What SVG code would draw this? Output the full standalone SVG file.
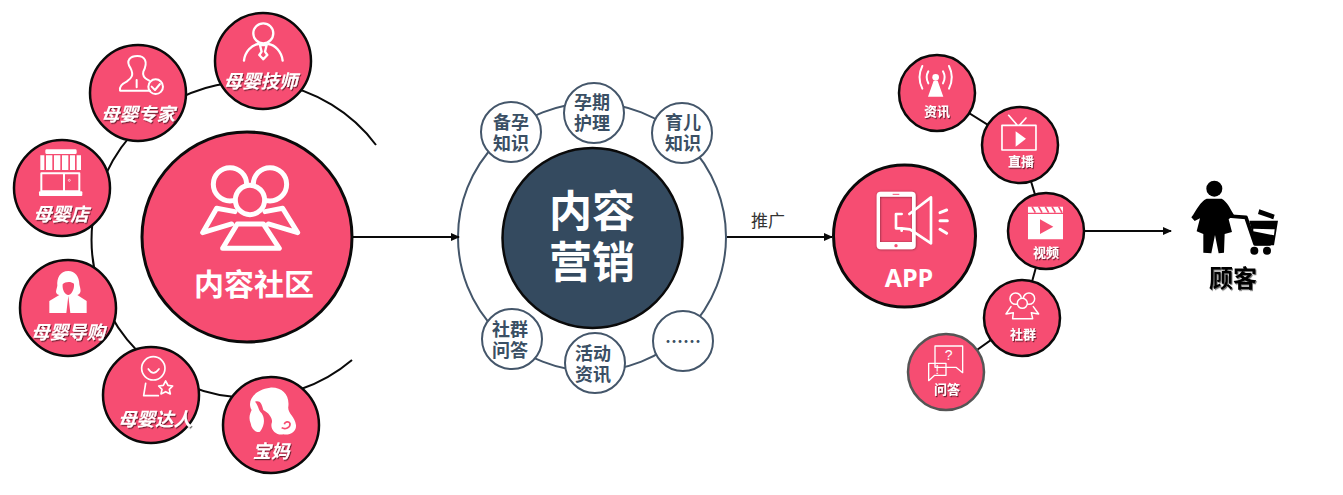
<svg xmlns="http://www.w3.org/2000/svg" width="1343" height="495" viewBox="0 0 1343 495">
<style>
text{font-family:"Noto Sans CJK SC","Liberation Sans",sans-serif;font-weight:700;text-anchor:middle}
.p{fill:#f64d72;stroke:#0a0a0a}
.b{stroke-width:2.5}
.big{stroke-width:3}
.t{fill:#fff;font-size:18.500px;font-style:italic;filter:url(#sh)}
.s{fill:#fff;font-size:13px;filter:url(#sh)}
.k{fill:#fff;stroke:#44566a;stroke-width:2}
.d{fill:#3a4f64;font-size:18px}
.i{fill:none;stroke:#fff;stroke-width:6;stroke-linecap:round;stroke-linejoin:round}
.f{fill:#fff}
.l{fill:none;stroke:#0a0a0a;stroke-width:2}
</style>
<defs>
<filter id="sh" x="-20%" y="-20%" width="150%" height="150%"><feDropShadow dx="1" dy="1.2" stdDeviation=".7" flood-color="#000" flood-opacity=".55"/></filter>
<filter id="ph" x="-30%" y="-30%" width="160%" height="160%"><feDropShadow dx="1" dy="1" stdDeviation="3" flood-color="#000" flood-opacity=".5"/></filter>
<marker id="a" markerWidth="9" markerHeight="9" refX="8" refY="4.500" orient="auto" markerUnits="userSpaceOnUse"><path d="M0 0.500L9 4.500L0 8.500z" fill="#0a0a0a"/></marker>
</defs>
<rect width="1343" height="495" fill="#fff"/>
<g id="connectors">
<path class="l" d="M376 145A158 158 0 1 0 352 360"/>
<circle cx="592" cy="237" r="134" fill="none" stroke="#44566a" stroke-width="2"/>
<path class="l" d="M937 93L1020 145L1046 231L1022 318L946 372"/>
<path class="l" d="M353 237H459" stroke-width="1.600" marker-end="url(#a)"/>
<path class="l" d="M727 237H832" stroke-width="1.600" marker-end="url(#a)"/>
<path class="l" d="M1084 231H1171" stroke-width="1.600" marker-end="url(#a)"/>
</g>
<text x="768" y="227" style="font-weight:400;font-size:17px;fill:#333">推广</text>

<g id="community">
<circle class="p big" cx="247" cy="237" r="105"/>
<g transform="scale(.3333)">
<circle class="i" cx="690" cy="553" r="50" style="stroke-width:15"/>
<circle class="i" cx="810" cy="553" r="50" style="stroke-width:15"/>
<path class="i" style="stroke-width:15" d="M705 635L650 625L608 698L695 672M795 635L848 625L893 698L805 672M712 672H790L838 745H668Z"/>
<circle class="i" cx="750" cy="600" r="44" style="stroke-width:15;fill:#f64d72"/>
</g>
<text x="254" y="295" fill="#fff" style="font-size:30px">内容社区</text>
</g>

<g id="technician">
<circle class="p b" cx="263" cy="61" r="48"/>
<g class="i" transform="scale(.3333)" style="stroke-width:7">
<circle cx="790" cy="100" r="30"/>
<path d="M732 182C735 155 755 135 775 132M848 182C845 155 825 135 805 132M780 135H800L795 155L802 165L790 178L778 165L785 155Z"/>
</g>
<text class="t" x="260.500" y="88">母婴技师</text>
</g>

<g id="expert">
<circle class="p b" cx="138" cy="93" r="48"/>
<g class="i" transform="scale(.3333)" style="stroke-width:6">
<path d="M392 205C375 180 392 168 412 168C435 168 445 185 430 215C425 232 440 238 448 242M392 205C402 225 395 235 380 245C365 252 358 262 360 272H450M410 240V262"/>
<circle cx="467" cy="260" r="22"/>
<path d="M455 260L465 270L480 252"/>
</g>
<text class="t" x="138" y="121">母婴专家</text>
</g>

<g id="store">
<circle class="p b" cx="62" cy="188" r="48"/>
<g transform="scale(.3333)">
<rect class="f" x="136" y="448" width="94" height="14" rx="4"/>
<path class="f" d="M121 466H133V510H121zM138 466H157V510H138zM162 466H181V510H162zM186 466H205V510H186zM210 466H225V510H210zM230 466H243V510H230z"/>
<path class="i" d="M124 520H238V574H124ZM192 520V574"/>
<rect class="f" x="117" y="574" width="130" height="14" rx="3"/>
<circle cx="208" cy="541" r="3" fill="none" stroke="#fff" stroke-width="2"/>
</g>
<text class="t" x="61" y="221">母婴店</text>
</g>

<g id="guide">
<circle class="p b" cx="68" cy="308" r="48"/>
<g transform="translate(0 245) scale(.3333)">
<path class="f" d="M205 78C180 78 170 100 172 122C170 135 162 145 178 150L148 168V204H260V168L232 150C248 145 240 130 238 118C238 95 225 78 205 78Z"/>
<path d="M188 118C195 110 212 108 222 116C224 135 212 150 205 150C195 150 186 135 188 118ZM205 152L199 204H211Z" fill="#f64d72"/>
</g>
<text class="t" x="68" y="339">母婴导购</text>
</g>

<g id="talent">
<circle class="p b" cx="151" cy="395" r="48"/>
<g class="i" transform="translate(0 245) scale(.3333)" style="stroke-width:5">
<circle cx="460" cy="370" r="35"/>
<path d="M445 372Q460 395 477 372M437 415L431 452H475"/>
<path d="M497 408L504 421L518 423L508 433L511 447L497 440L483 447L486 433L476 423L490 421Z"/>
</g>
<text class="t" x="155" y="426">母婴达人</text>
</g>

<g id="mom">
<circle class="p b" cx="271" cy="425" r="48"/>
<g transform="translate(0 245) scale(.3333)">
<path class="f" d="M810 428C845 425 870 450 865 485C862 505 885 515 888 540C890 560 870 572 850 568C830 572 810 555 815 535C820 525 810 505 790 495C785 475 780 465 765 470C775 480 775 495 785 505C795 520 795 540 780 560C770 565 755 555 752 535C745 520 750 505 755 495C740 470 760 435 810 428Z"/>
<path d="M845 548C855 555 872 548 870 535C866 528 855 530 853 538" fill="none" stroke="#f64d72" stroke-width="5"/>
</g>
<text class="t" x="271" y="458">宝妈</text>
</g>

<g id="marketing">
<circle cx="592.500" cy="238" r="90" fill="#344a5f" stroke="#0a0a0a" stroke-width="2.500"/>
<text fill="#fff" style="font-size:43px"><tspan x="592" y="227">内容</tspan><tspan x="592" y="278">营销</tspan></text>
</g>
<g id="n1"><circle class="k" cx="511" cy="132" r="30"/><text class="d"><tspan x="511" y="129">备孕</tspan><tspan x="511" y="150">知识</tspan></text></g>
<g id="n2"><circle class="k" cx="594" cy="113" r="30"/><text class="d"><tspan x="592" y="109">孕期</tspan><tspan x="592" y="130">护理</tspan></text></g>
<g id="n3"><circle class="k" cx="682" cy="133" r="30"/><text class="d"><tspan x="683" y="129">育儿</tspan><tspan x="683" y="150">知识</tspan></text></g>
<g id="n4"><circle class="k" cx="512" cy="339" r="30"/><text class="d"><tspan x="510" y="336">社群</tspan><tspan x="510" y="357">问答</tspan></text></g>
<g id="n5"><circle class="k" cx="595" cy="363" r="30"/><text class="d"><tspan x="593" y="360">活动</tspan><tspan x="593" y="381">资讯</tspan></text></g>
<g id="n6"><circle class="k" cx="683" cy="341" r="30"/><text class="d" x="683" y="348">……</text></g>

<g id="app">
<circle class="p big" cx="904.500" cy="236" r="71"/>
<g transform="translate(880 190) scale(.3333)">
<path class="f" filter="url(#ph)" fill-rule="evenodd" d="M2 5H95Q107 5 107 17V166Q107 178 95 178H2Q-10 178 -10 166V17Q-10 5 2 5ZM0 20V156H96V20Z"/>
<path d="M38 13H58" stroke="#f64d72" stroke-width="3"/><circle cx="48" cy="167" r="5" fill="#f64d72"/>
<path class="i" style="stroke-width:8" d="M65 72H48V115H65L90 118L153 160V22L88 72M65 115V122"/>
<path class="i" style="stroke-width:9" d="M180 68L200 60M180 92H202M180 118L200 130"/>
</g>
<text x="909" y="287" fill="#fff" style="font-family:'Open Sans',sans-serif;font-size:25px">APP</text>
</g>

<g id="news">
<circle class="p b" cx="937" cy="93" r="38"/>
<g transform="translate(820 40) scale(.3333)">
<circle class="f" cx="347" cy="112" r="10"/>
<path class="f" d="M341 122H353L370 170H324Z"/>
<path class="i" style="stroke-width:6" d="M325 94Q315 112 325 130M369 94Q379 112 369 130M307 78Q290 112 307 146M387 78Q404 112 387 146"/>
</g>
<text class="s" x="937" y="116">资讯</text>
</g>

<g id="live">
<circle class="p b" cx="1020" cy="145" r="38"/>
<g transform="translate(820 40) scale(.3333)">
<path class="i" style="stroke-width:5" d="M546 256H648V330H546ZM566 226L592 256M618 234L598 256"/>
<path class="f" d="M587 274L618 296L587 320Z"/>
</g>
<text class="s" x="1021" y="166">直播</text>
</g>

<g id="video">
<circle class="p b" cx="1046" cy="231" r="38"/>
<g transform="translate(880 190) scale(.3333)">
<path class="f" d="M444 50H549V68H444ZM444 72H549V148H444Z"/>
<path d="M480 88L520 110L480 132Z" fill="#f64d72"/>
<path d="M456 50L466 68M476 50L486 68M496 50L506 68M516 50L526 68M536 50L546 68" stroke="#f64d72" stroke-width="5"/>
</g>
<text class="s" x="1046" y="257">视频</text>
</g>

<g id="group">
<circle class="p b" cx="1022" cy="318" r="38"/>
<g class="i" transform="translate(880 190) scale(.3333)" style="stroke-width:4.500">
<circle cx="407" cy="326" r="17"/><circle cx="447" cy="326" r="17"/>
<path d="M393 350L378 372L400 368L398 386H458L454 368L476 372L460 350"/>
<circle cx="427" cy="340" r="15" fill="#f64d72"/>
</g>
<text class="s" x="1023" y="339">社群</text>
</g>

<g id="qa">
<circle class="p" cx="946" cy="372" r="38" style="stroke:#555" stroke-width="2.500"/>
<g transform="translate(880 190) scale(.3333)">
<path class="i" style="stroke-width:4" d="M165 468H248V548L228 532H165ZM146 520H198V556H164L146 572Z"/>
<text x="206" y="510" style="font-size:42px;font-weight:400;font-family:'Liberation Sans',sans-serif" fill="#fff">?</text>
<text x="172" y="553" style="font-size:38px;font-weight:400;font-family:'Liberation Sans',sans-serif" fill="#fff">!</text>
</g>
<text class="s" x="947" y="394">问答</text>
</g>

<g id="customer">
<g transform="translate(1150 160) scale(.3333)">
<circle cx="193" cy="86" r="24" fill="#000"/>
<path d="M235 168L288 172L315 252H362" fill="none" stroke="#000" stroke-width="11" stroke-linejoin="round"/>
<path d="M170 116H215C232 125 240 145 252 165L236 178L246 216L224 222L222 278L206 280L195 225L184 280L160 278L160 222L140 214L150 175L134 183L124 172C140 150 150 125 170 116Z" fill="#000"/>
<path d="M328 148L374 164L370 178L324 162ZM298 182H384L372 256H316ZM310 206V214L372 226L374 208Z" fill="#000" fill-rule="evenodd"/>
<circle cx="313" cy="272" r="12" fill="#000"/><circle cx="351" cy="272" r="12" fill="#000"/>
</g>
<text x="1233" y="287" fill="#000" style="font-size:24px;filter:url(#sh)">顾客</text>
</g>
</svg>
